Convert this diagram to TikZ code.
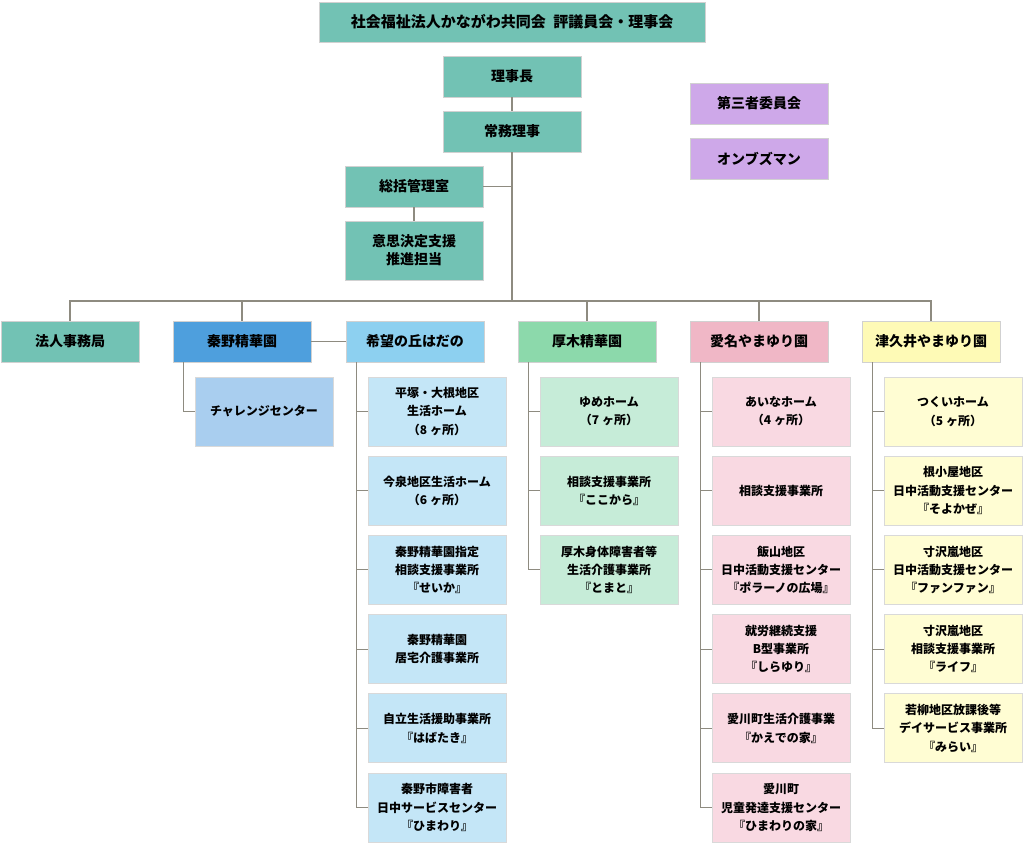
\documentclass[tikz,border=0pt]{standalone}
\usepackage{fontspec}
\setmainfont{Noto Sans CJK JP}
\usepackage{tikz}
\definecolor{tealbox}{HTML}{72C2B4}
\definecolor{violetbox}{HTML}{CEA8E9}
\definecolor{hadano}{HTML}{4E9FDD}
\definecolor{kibou}{HTML}{8DD0F0}
\definecolor{challenge}{HTML}{A9CEEF}
\definecolor{kibouunit}{HTML}{C4E6F7}
\definecolor{atsugi}{HTML}{8CD9AB}
\definecolor{atsugiunit}{HTML}{C6ECD8}
\definecolor{aina}{HTML}{F0B7C6}
\definecolor{ainaunit}{HTML}{F9D9E2}
\definecolor{tsukui}{HTML}{FEFAB6}
\definecolor{tsukuiunit}{HTML}{FFFDD3}
\definecolor{linegray}{HTML}{8E8B80}

\begin{document}
\begin{tikzpicture}
[x=1pt, y=-1pt, every node/.style={inner sep=0pt, align=center},
 head/.style={rectangle, minimum width=138pt, minimum height=41pt, draw=black!18, line width=0.8pt, font=\bfseries\fontsize{14}{18.3}\selectfont},
 unit/.style={rectangle, minimum width=138pt, minimum height=69pt, draw=black!15, line width=0.8pt, font=\bfseries\fontsize{12}{18.3}\selectfont},
 link/.style={line width=1.1pt, color=linegray}]
\useasboundingbox (0,0) rectangle (1024,844);
\node (1) [head, minimum width=386pt, minimum height=40pt, fill=tealbox, font=\bfseries\fontsize{15}{18}\selectfont] at (512, 22) {社会福祉法人かながわ共同会\hspace{0.5em}評議員会・理事会};
\node (2) [head, fill=tealbox] at (512, 76.5) {理事長};
\node (3) [head, fill=tealbox] at (512, 131.5) {常務理事};
\node (4) [head, fill=tealbox] at (414, 186.5) {総括管理室};
\node (5) [head, minimum height=59pt, fill=tealbox] at (414, 250.5) {意思決定支援\\推進担当};
\node (6) [head, fill=violetbox] at (759, 103.5) {第三者委員会};
\node (7) [head, fill=violetbox] at (759, 158.5) {オンブズマン};
\coordinate (bus) at (512, 301);
\node (8) [head, fill=tealbox] at (70, 341.5) {法人事務局};
\node (9) [head, fill=hadano] at (242, 341.5) {秦野精華園};
\node (10) [head, fill=kibou] at (415, 341.5) {希望の丘はだの};
\node (11) [head, fill=atsugi] at (587, 341.5) {厚木精華園};
\node (12) [head, fill=aina] at (759, 341.5) {愛名やまゆり園};
\node (13) [head, fill=tsukui] at (931, 341.5) {津久井やまゆり園};
\node (14) [unit, fill=challenge] at (264, 411.5) {チャレンジセンター};
\node (15) [unit, fill=kibouunit] at (437, 411.5) {平塚・大根地区\\生活ホーム\\（8 ヶ所）};
\node (16) [unit, fill=kibouunit] at (437, 490.7) {今泉地区生活ホーム\\（6 ヶ所）};
\node (17) [unit, fill=kibouunit] at (437, 569.9) {秦野精華園指定\\相談支援事業所\\『せいか』};
\node (18) [unit, fill=kibouunit] at (437, 649.1) {秦野精華園\\居宅介護事業所};
\node (19) [unit, fill=kibouunit] at (437, 728.3) {自立生活援助事業所\\『はばたき』};
\node (20) [unit, fill=kibouunit] at (437, 807.5) {秦野市障害者\\日中サービスセンター\\『ひまわり』};
\node (21) [unit, fill=atsugiunit] at (609, 411.5) {ゆめホーム\\（7 ヶ所）};
\node (22) [unit, fill=atsugiunit] at (609, 490.7) {相談支援事業所\\『ここから』};
\node (23) [unit, fill=atsugiunit] at (609, 569.9) {厚木身体障害者等\\生活介護事業所\\『とまと』};
\node (24) [unit, fill=ainaunit] at (781, 411.5) {あいなホーム\\（4 ヶ所）};
\node (25) [unit, fill=ainaunit] at (781, 490.7) {相談支援事業所};
\node (26) [unit, fill=ainaunit] at (781, 569.9) {飯山地区\\日中活動支援センター\\『ポラーノの広場』};
\node (27) [unit, fill=ainaunit] at (781, 649.1) {就労継続支援\\B型事業所\\『しらゆり』};
\node (28) [unit, fill=ainaunit] at (781, 728.3) {愛川町生活介護事業\\『かえでの家』};
\node (29) [unit, fill=ainaunit] at (781, 807.5) {愛川町\\児童発達支援センター\\『ひまわりの家』};
\node (30) [unit, fill=tsukuiunit] at (953, 411.5) {つくいホーム\\（5 ヶ所）};
\node (31) [unit, fill=tsukuiunit] at (953, 490.7) {根小屋地区\\日中活動支援センター\\『そよかぜ』};
\node (32) [unit, fill=tsukuiunit] at (953, 569.9) {寸沢嵐地区\\日中活動支援センター\\『ファンファン』};
\node (33) [unit, fill=tsukuiunit] at (953, 649.1) {寸沢嵐地区\\相談支援事業所\\『ライフ』};
\node (34) [unit, fill=tsukuiunit] at (953, 728.3) {若柳地区放課後等\\デイサービス事業所\\『みらい』};
\draw [link] (2) -- (3);
\draw [link] (3) -- (bus);
\draw [link] (4) -- (4 -| 3);
\draw [link] (4) -- (5);
\draw [link] (8) |- (bus);
\draw [link] (9) |- (bus);
\draw [link] (11) |- (bus);
\draw [link] (12) |- (bus);
\draw [link] (13) |- (bus);
\draw [link] (9) -- (10);
\draw [link] ([xshift=11pt]9.south west) |- (14.west);
\draw [link] ([xshift=11pt]10.south west) |- (15.west);
\draw [link] ([xshift=11pt]10.south west) |- (16.west);
\draw [link] ([xshift=11pt]10.south west) |- (17.west);
\draw [link] ([xshift=11pt]10.south west) |- (18.west);
\draw [link] ([xshift=11pt]10.south west) |- (19.west);
\draw [link] ([xshift=11pt]10.south west) |- (20.west);
\draw [link] ([xshift=11pt]11.south west) |- (21.west);
\draw [link] ([xshift=11pt]11.south west) |- (22.west);
\draw [link] ([xshift=11pt]11.south west) |- (23.west);
\draw [link] ([xshift=11pt]12.south west) |- (24.west);
\draw [link] ([xshift=11pt]12.south west) |- (25.west);
\draw [link] ([xshift=11pt]12.south west) |- (26.west);
\draw [link] ([xshift=11pt]12.south west) |- (27.west);
\draw [link] ([xshift=11pt]12.south west) |- (28.west);
\draw [link] ([xshift=11pt]12.south west) |- (29.west);
\draw [link] ([xshift=11pt]13.south west) |- (30.west);
\draw [link] ([xshift=11pt]13.south west) |- (31.west);
\draw [link] ([xshift=11pt]13.south west) |- (32.west);
\draw [link] ([xshift=11pt]13.south west) |- (33.west);
\draw [link] ([xshift=11pt]13.south west) |- (34.west);
\end{tikzpicture}
\end{document}
